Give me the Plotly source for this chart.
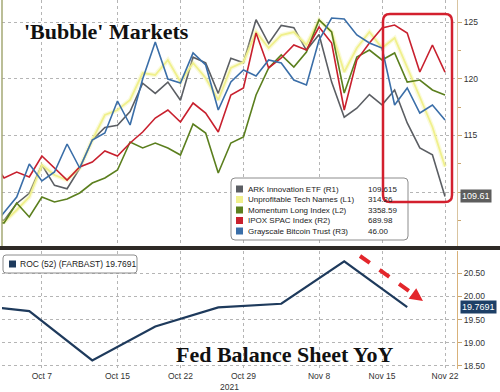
import plotly.graph_objects as go

# ---------------- data ----------------
dates = ["2021-10-01", "2021-10-04", "2021-10-05", "2021-10-06", "2021-10-07", "2021-10-08",
         "2021-10-11", "2021-10-12", "2021-10-13", "2021-10-14", "2021-10-15",
         "2021-10-18", "2021-10-19", "2021-10-20", "2021-10-21", "2021-10-22",
         "2021-10-25", "2021-10-26", "2021-10-27", "2021-10-28", "2021-10-29",
         "2021-11-01", "2021-11-02", "2021-11-03", "2021-11-04", "2021-11-05",
         "2021-11-08", "2021-11-09", "2021-11-10", "2021-11-11", "2021-11-12",
         "2021-11-15", "2021-11-16", "2021-11-17", "2021-11-18", "2021-11-19",
         "2021-11-22"]

ark_innovation = [107.7, 107.5, 109.0, 109.9, 112.4, 110.6, 110.3, 112.1, 114.6, 115.7, 115.9,
                  117.1, 119.6, 118.7, 119.7, 118.1, 121.9, 121.4, 118.7, 121.8, 121.4,
                  125.2, 123.1, 124.7, 124.5, 122.5, 123.9, 119.7, 116.6, 117.4, 118.6,
                  117.7, 119.0, 116.1, 113.9, 113.3, 109.615]
unprofitable_tech = [287.5, 286.5, 292.5, 299.0, 315.0, 310.0, 307.5, 313.5, 327.5, 340.0, 342.5,
                     347.5, 361.0, 360.0, 367.5, 356.5, 366.0, 358.5, 347.5, 363.5, 366.5,
                     381.5, 373.5, 380.0, 381.5, 375.0, 387.5, 381.5, 361.5, 373.5, 381.5,
                     373.5, 378.5, 364.0, 349.0, 334.0, 314.26]
momentum_long = [2850.6, 2846.6, 2926.6, 2870.6, 2950.6, 2930.6, 2942.6, 2966.6, 3006.6, 3026.6, 3058.6,
                 3170.6, 3146.6, 3166.6, 3146.6, 3118.6, 3242.6, 3206.6, 3046.6, 3166.6, 3190.6,
                 3358.6, 3466.6, 3518.6, 3470.6, 3530.6, 3658.6, 3610.6, 3366.6, 3510.6, 3538.6,
                 3498.6, 3526.6, 3410.6, 3418.6, 3378.6, 3358.59]
ipox_spac = [646.0, 637.0, 640.0, 637.5, 648.0, 642.0, 636.0, 642.5, 645.0, 650.5, 648.0,
             654.5, 660.0, 667.0, 671.0, 665.0, 674.5, 669.5, 660.0, 678.5, 682.0,
             709.5, 692.0, 697.0, 703.5, 701.0, 712.5, 704.5, 671.0, 696.0, 704.5,
             712.0, 713.5, 709.5, 690.0, 703.5, 689.98]
grayscale_btc = [40.60, 41.40, 42.15, 43.80, 42.95, 43.40, 44.80, 43.60, 45.00, 45.35, 46.95,
                 45.75, 48.05, 49.90, 48.05, 47.85, 49.35, 48.75, 46.50, 47.90, 48.50,
                 48.20, 49.00, 48.85, 48.00, 47.75, 50.00, 51.10, 51.05, 50.25, 49.85,
                 49.60, 46.75, 47.60, 46.35, 46.75, 46.00]

fed_dates = ["2021-09-29", "2021-10-06", "2021-10-13", "2021-10-20", "2021-10-27",
             "2021-11-03", "2021-11-10", "2021-11-17"]
fed_roc = [19.83, 19.68, 18.62, 19.35, 19.76, 19.84, 20.75, 19.7691]

tick_dates = ["2021-10-07", "2021-10-15", "2021-10-22", "2021-10-29",
              "2021-11-08", "2021-11-15", "2021-11-22"]
tick_text = ["Oct 7", "Oct 15", "Oct 22", "Oct 29", "Nov 8", "Nov 15", "Nov 22"]

top_tickvals = [110, 115, 120, 125]
top_ticktext = ["", "115", "120", "125"]
bottom_tickvals = [18.5, 19.0, 19.5, 20.0, 20.5]

legend_names = ["ARK Innovation ETF (R1)", "Unprofitable Tech Names (L1)",
                "Momentum Long Index (L2)", "IPOX SPAC Index (R2)", "Grayscale Bitcoin Trust (R3)"]
legend_values = ["109.615", "314.26", "3358.59", "689.98", "46.00"]

# ---------------- styling ----------------
C_ARK = "#5b5e63"
C_UNP = "#f0f08c"
C_MOM = "#5b7f1e"
C_SPAC = "#c8202e"
C_BTC = "#3a6ea8"
C_FED = "#1e3a5c"
legend_colors = [C_ARK, C_UNP, C_MOM, C_SPAC, C_BTC]

W, H = 500, 392
ML, MR, MT, MB = 2, 43, 0, 23
PW, PH = W - ML - MR, H - MT - MB


def px(x):
    return (x - ML) / PW


def py(y):
    return (H - MB - y) / PH


fig = go.Figure()

# soft halo under the pale yellow line
fig.add_trace(go.Scatter(x=dates, y=unprofitable_tech, yaxis="y3", xaxis="x", mode="lines",
                         line=dict(color="rgba(240,240,150,0.35)", width=4.5), showlegend=False,
                         hoverinfo="skip"))
fig.add_trace(go.Scatter(x=dates, y=unprofitable_tech, yaxis="y3", xaxis="x", mode="lines",
                         line=dict(color=C_UNP, width=1.8), showlegend=False))
fig.add_trace(go.Scatter(x=dates, y=momentum_long, yaxis="y4", xaxis="x", mode="lines",
                         line=dict(color=C_MOM, width=1.6), showlegend=False))
fig.add_trace(go.Scatter(x=dates, y=ipox_spac, yaxis="y5", xaxis="x", mode="lines",
                         line=dict(color=C_SPAC, width=1.6), showlegend=False))
fig.add_trace(go.Scatter(x=dates, y=grayscale_btc, yaxis="y6", xaxis="x", mode="lines",
                         line=dict(color=C_BTC, width=1.6), showlegend=False))
fig.add_trace(go.Scatter(x=dates, y=ark_innovation, yaxis="y", xaxis="x", mode="lines",
                         line=dict(color=C_ARK, width=1.6), showlegend=False))
fig.add_trace(go.Scatter(x=fed_dates, y=fed_roc, yaxis="y2", xaxis="x2", mode="lines",
                         line=dict(color=C_FED, width=2.2), showlegend=False))

x_range = ["2021-10-01 20:00", "2021-11-22 22:50"]
rb = [dict(bounds=["sat", "mon"])]
tfont = dict(family="Liberation Sans", size=8.5, color="#333333")
grid = dict(showgrid=True, gridcolor="#b5b5b5", griddash="dot", gridwidth=1)
top_dom = [py(247), 1]
bot_dom = [0, py(251)]

fig.update_layout(
    width=W, height=H, margin=dict(l=ML, r=MR, t=MT, b=MB, autoexpand=False),
    paper_bgcolor="white", plot_bgcolor="white", showlegend=False,
    xaxis=dict(type="date", range=x_range, rangebreaks=rb, anchor="y",
               tickvals=tick_dates, ticktext=tick_text, showticklabels=False,
               ticks="", zeroline=False, **grid),
    xaxis2=dict(type="date", range=x_range, rangebreaks=rb, anchor="y2",
                tickvals=tick_dates, ticktext=tick_text, tickfont=tfont,
                ticks="", zeroline=False, **grid),
    yaxis=dict(domain=top_dom, range=[105.16, 126.94], side="right", anchor="x",
               tickvals=top_tickvals, ticktext=top_ticktext, tickfont=tfont,
               ticks="outside", ticklen=4, tickcolor="#c9a46c",
               showline=True, linecolor="#d9c4a0", zeroline=False,
               minor=dict(dtick=2.5, ticklen=3, tickcolor="#c9a46c", ticks="outside"),
               **grid),
    yaxis2=dict(domain=bot_dom, range=[18.435, 20.975], side="right", anchor="x2",
                tickvals=bottom_tickvals, tickformat=".2f", tickfont=tfont,
                ticks="outside", ticklen=4, tickcolor="#c9a46c",
                showline=True, linecolor="#d9b27a", zeroline=False, **grid),
    yaxis3=dict(overlaying="y", anchor="x", side="left", range=[274.0, 397.5], visible=False),
    yaxis4=dict(overlaying="y", anchor="x", side="left", range=[2750.6, 3738.6], visible=False),
    yaxis5=dict(overlaying="y", anchor="x", side="right", range=[602.5, 726.0], visible=False),
    yaxis6=dict(overlaying="y", anchor="x", side="right", range=[39.65, 52.0], visible=False),
)


def rounded_rect(x0, y0, x1, y1, r):
    # pixel coords -> paper path with rounded corners
    rx, ry = r / PW, r / PH
    X0, X1 = px(x0), px(x1)
    Yt, Yb = py(y0), py(y1)
    return (f"M {X0+rx},{Yt} L {X1-rx},{Yt} Q {X1},{Yt} {X1},{Yt-ry} "
            f"L {X1},{Yb+ry} Q {X1},{Yb} {X1-rx},{Yb} L {X0+rx},{Yb} "
            f"Q {X0},{Yb} {X0},{Yb+ry} L {X0},{Yt-ry} Q {X0},{Yt} {X0+rx},{Yt} Z")


shapes = []
# left border of top panel
shapes.append(dict(type="line", xref="paper", yref="paper", x0=px(2), x1=px(2), y0=py(0), y1=py(247),
                   line=dict(color="#a4a874", width=1.5), layer="above"))
# separator band between panels
shapes.append(dict(type="rect", xref="paper", yref="paper", x0=px(0), x1=px(500), y0=py(250), y1=py(246),
                   fillcolor="#2e2a26", line=dict(width=0), layer="above"))
# top legend box
shapes.append(dict(type="path", xref="paper", yref="paper", path=rounded_rect(231, 178, 408, 240, 4),
                   fillcolor="white", line=dict(color="#8c8c8c", width=1), layer="above"))
rows_y = [189, 199.5, 210, 220.5, 231]
for c, yy in zip(legend_colors, rows_y):
    shapes.append(dict(type="rect", xref="paper", yref="paper", x0=px(236), x1=px(243),
                       y0=py(yy + 3.5), y1=py(yy - 3.5), fillcolor=c, line=dict(width=0), layer="above"))
# bottom legend box
shapes.append(dict(type="path", xref="paper", yref="paper", path=rounded_rect(3, 255, 137, 273, 3),
                   fillcolor="white", line=dict(color="#8c8c8c", width=1), layer="above"))
shapes.append(dict(type="rect", xref="paper", yref="paper", x0=px(9), x1=px(16),
                   y0=py(267.5), y1=py(260.5), fillcolor=C_FED, line=dict(width=0), layer="above"))
# red highlight rectangle
shapes.append(dict(type="path", xref="paper", yref="paper", path=rounded_rect(383, 14, 452, 202, 7),
                   line=dict(color="#d3202e", width=2.5), layer="above"))
# dashed red arrow
sx, sy, tx, ty = 360, 256, 423, 301
dx, dy = tx - sx, ty - sy
L = (dx * dx + dy * dy) ** 0.5
ux, uy = dx / L, dy / L
hl, hw = 13, 6.5
bx, by = tx - hl * ux, ty - hl * uy
shapes.append(dict(type="line", xref="paper", yref="paper", x0=px(sx), y0=py(sy),
                   x1=px(bx + 2 * ux), y1=py(by + 2 * uy),
                   line=dict(color="#e3262b", width=4, dash="dash"), layer="above"))
shapes.append(dict(type="path", xref="paper", yref="paper",
                   path=(f"M {px(tx)},{py(ty)} L {px(bx - hw*uy)},{py(by + hw*ux)} "
                         f"L {px(bx + hw*uy)},{py(by - hw*ux)} Z"),
                   fillcolor="#e3262b", line=dict(width=0), layer="above"))
fig.update_layout(shapes=shapes)

ann = []
lfont = dict(family="Liberation Sans", size=8, color="#222222")
for name, val, yy in zip(legend_names, legend_values, rows_y):
    ann.append(dict(xref="paper", yref="paper", x=px(246), y=py(yy), text=name, showarrow=False,
                    xanchor="left", yanchor="middle", font=lfont))
    ann.append(dict(xref="paper", yref="paper", x=px(366), y=py(yy), text=val, showarrow=False,
                    xanchor="left", yanchor="middle", font=lfont))
ann.append(dict(xref="paper", yref="paper", x=px(18), y=py(264), text="ROC (52) (FARBAST) 19.7691",
                showarrow=False, xanchor="left", yanchor="middle",
                font=dict(family="Liberation Sans", size=8.5, color="#222222")))
# titles
ann.append(dict(xref="paper", yref="paper", x=px(22), y=py(31), text="<b>'Bubble' Markets</b>",
                showarrow=False, xanchor="left", yanchor="middle",
                font=dict(family="Liberation Serif", size=22, color="#111111")))
ann.append(dict(xref="paper", yref="paper", x=px(174), y=py(354), text="<b>Fed Balance Sheet YoY</b>",
                showarrow=False, xanchor="left", yanchor="middle",
                font=dict(family="Liberation Serif", size=22, color="#111111")))
# last value labels on the right axes
ann.append(dict(xref="paper", yref="y", x=1, y=ark_innovation[-1], text="109.61", showarrow=False,
                xanchor="left", yanchor="middle", xshift=3, bgcolor="#5d5d5d", borderpad=1,
                font=dict(family="Liberation Sans", size=9, color="white")))
ann.append(dict(xref="paper", yref="y2", x=1, y=fed_roc[-1], text="19.7691", showarrow=False,
                xanchor="left", yanchor="middle", xshift=3, bgcolor="#1d3f66", borderpad=1,
                font=dict(family="Liberation Sans", size=9, color="white")))
ann.append(dict(xref="paper", yref="paper", x=px(229), y=py(387), text="2021", showarrow=False,
                xanchor="center", yanchor="middle", font=tfont))
fig.update_layout(annotations=ann)

fig.write_html("out.html", config={"displayModeBar": False},
               post_script="document.body.style.margin='0';document.body.style.padding='0';"
                           "document.body.style.overflow='hidden';")
